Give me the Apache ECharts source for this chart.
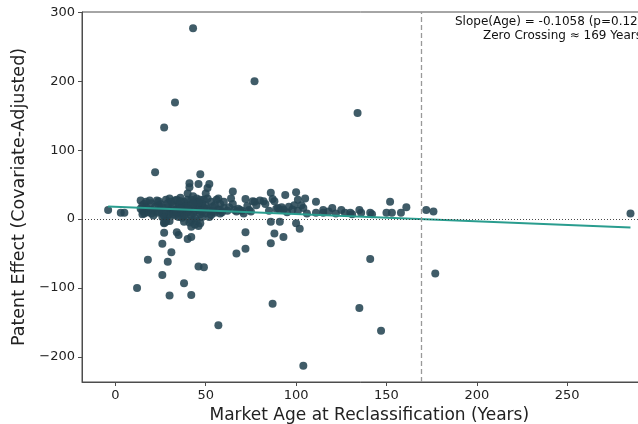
<!DOCTYPE html>
<html>
<head>
<meta charset="utf-8">
<script src="https://cdn.jsdelivr.net/npm/echarts@6/dist/echarts.min.js"></script>
<style>
  html, body { margin: 0; padding: 0; background: #fff; }
  #chart { width: 638px; height: 424px; }
</style>
</head>
<body>
<div id="chart"></div>
<script>
// ---- Data ----
const points = [
  // outliers
  [43,277],[77,200],[33,169],[27,133],[134,154],[22,68],[47,65],
  [41,52],[46,51],[52,51],[41,46],[51,45],[40,37],[50,37],
  [18,-59],[12,-100],[26,-81],[30,-111],[29,-62],[31,-48],[26,-36],[27,-20],[34,-19],[35,-23],
  [38,-93],[42,-110],[46,-69],[49,-70],[40,-29],[42,-11],[42,-26],[38,-4],[27,-6],
  [57,-154],[87,-123],[135,-129],[147,-162],[104,-213],[141,-58],[177,-79],
  [72,-43],[67,-50],[72,-19],[86,-35],[88,-21],[93,-26],[86,-4],[91,-4],[100,-6],[102,-14],
  // low ages
  [-4,13],[3,9],[5,9],
  // dense cluster 14-60
  [14,27],[15,20],[15,12],[16,8],[14,15],[17,25],[16,22],[18,10],[19,14],[20,8],[17,17],[15,7],[19,27],
  [21,12],[22,18],[23,9],[20,23],[24,26],[25,14],[26,8],[24,20],[27,4],[28,-2],[28,0],[27,-5],
  [29,12],[26,17],[25,22],[28,28],[29,23],[30,30],[31,15],[30,8],[29,5],[27,10],[26,3],[28,-4],
  [30,-3],[31,25],[32,20],[31,10],[33,27],[34,14],[35,22],[36,9],[33,5],[34,28],[35,18],[37,12],
  [38,25],[39,6],[36,31],[37,19],[38,15],[39,22],[40,10],[40,28],[35,3],[33,12],[36,26],[38,4],
  [39,18],[41,14],[42,21],[43,8],[44,26],[42,5],[43,17],[44,12],[45,30],[46,19],[47,7],[45,24],
  [46,14],[48,10],[47,28],[48,22],[49,16],[50,8],[41,-5],[42,-2],[44,-8],[46,-10],[42,28],[50,20],
  [49,28],[43,33],[45,-3],[47,-6],[52,12],[53,25],[54,18],[55,9],[56,28],[57,14],[58,22],[59,10],
  [60,16],[52,3],[51,30],[55,20],[53,6],[57,30],[58,8],[60,25],[23,27],[21,5],[32,7],[37,2],
  [44,2],[48,3],[24,11],[34,9],[40,16],[46,24],[51,15],[54,11],[29,17],[36,15],[43,23],[47,12],
  // 60-130
  [62,12],[63,17],[64,30],[65,40],[65,22],[67,11],[68,15],[70,12],[72,29],[73,19],[74,13],[76,26],
  [77,25],[78,20],[80,27],[82,26],[83,22],[75,11],[71,8],[58,13],[66,13],[69,13],
  [85,12],[86,38],[87,29],[88,26],[89,15],[90,16],[91,13],[92,17],[93,14],[94,35],[95,10],[96,18],
  [98,14],[99,20],[100,39],[101,28],[101,12],[103,20],[105,30],[104,16],[106,8],
  [111,25],[111,9],[115,13],[115,9],[118,11],[120,16],[122,8],[125,13],[127,9],[130,9],[131,7],
  // 130-180 and beyond
  [135,13],[136,9],[141,9],[142,7],[150,9],[152,25],[153,9],[158,9],[161,17],
  [172,13],[176,11],[285,8]
];
const fitAge = [-4, 285];
const fitEffect = [18.3, -12.3];
const zeroCrossing = 169;
const xTicks = [0, 50, 100, 150, 200, 250];
const yTicks = [-200, -100, 0, 100, 200, 300];
const annotationLines = ['Slope(Age) = -0.1058 (p=0.123)', 'Zero Crossing \u2248 169 Years'];

const FONT = 'DejaVu Sans';
const minus = v => String(v).replace('-', '\u2212');

const chart = echarts.init(document.getElementById('chart'), null, { renderer: 'canvas' });
chart.setOption({
  animation: false,
  backgroundColor: '#ffffff',
  grid: {
    left: 82, top: 12, right: -18.6, bottom: 42,
    containLabel: false, outerBoundsMode: 'none',
    show: true, borderColor: '#4d4d4d', borderWidth: 1, backgroundColor: 'transparent'
  },
  xAxis: {
    type: 'value', min: -18.45, max: 299.45,
    name: 'Market Age at Reclassification (Years)',
    nameLocation: 'middle', nameGap: 20,
    nameTextStyle: { fontFamily: FONT, fontSize: 17, color: '#222' },
    splitLine: { show: false },
    axisLine: { show: true, onZero: false, lineStyle: { color: '#4d4d4d', width: 1 } },
    axisTick: { show: true, length: 4, customValues: xTicks, lineStyle: { color: '#4d4d4d' } },
    axisLabel: { customValues: xTicks, margin: 7, fontFamily: FONT, fontSize: 13, color: '#222', formatter: minus }
  },
  yAxis: {
    type: 'value', min: -236.4, max: 300.4,
    name: 'Patent Effect (Covariate-Adjusted)',
    nameLocation: 'middle', nameGap: 47,
    nameTextStyle: { fontFamily: FONT, fontSize: 17.5, color: '#222' },
    splitLine: { show: false },
    axisLine: { show: true, onZero: false, lineStyle: { color: '#4d4d4d', width: 1 } },
    axisTick: { show: true, length: 4, customValues: yTicks, lineStyle: { color: '#4d4d4d' } },
    axisLabel: { customValues: yTicks, margin: 7, fontFamily: FONT, fontSize: 13, color: '#222', formatter: minus }
  },
  series: [
    {
      type: 'scatter',
      data: points,
      symbolSize: 8,
      itemStyle: { color: '#264653', opacity: 0.88 },
      z: 2,
      markLine: {
        silent: true, symbol: 'none', label: { show: false },
        data: [
          { yAxis: 0, lineStyle: { color: '#333', type: [1, 2], width: 0.9 } },
          { xAxis: zeroCrossing, lineStyle: { color: '#999', type: [5, 3], width: 1.3 } }
        ]
      }
    },
    {
      type: 'line',
      data: fitAge.map((a, i) => [a, fitEffect[i]]),
      showSymbol: false,
      lineStyle: { color: '#2a9d8f', width: 2 },
      z: 3
    }
  ],
  graphic: [
    { type: 'text', left: 455, top: 16, style: { text: annotationLines[0], font: '12px "DejaVu Sans"', fill: '#111' } },
    { type: 'text', left: 483, top: 30, style: { text: annotationLines[1], font: '12px "DejaVu Sans"', fill: '#111' } }
  ]
});
</script>
</body>
</html>
